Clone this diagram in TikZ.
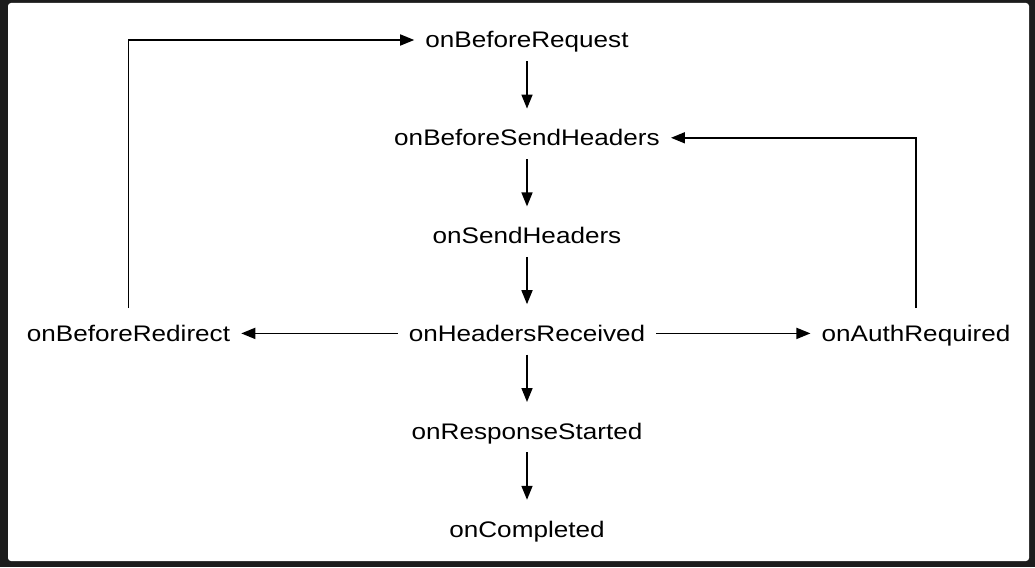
\documentclass[tikz,border=0pt]{standalone}
\usepackage{fontspec}
\setmainfont{Liberation Sans}[FakeStretch=1.16]
\usetikzlibrary{arrows.meta}

\tikzset{
	event/.style={font=\fontsize{22.5}{27}\selectfont, text height=21pt, text depth=5pt, inner xsep=11pt, inner ysep=12pt},
	flow/.style={line width=1.6pt, -{Triangle[length=14pt, width=11pt]}},
	down/.style={flow, shorten <=-4pt, shorten >=4pt},
}

\begin{document}
\begin{tikzpicture}[x=1pt, y=-1pt]
	\fill[black!89] (0, 0) rectangle (1035, 567);
	\fill[white, rounded corners=3pt] (8, 3) rectangle (1029, 561);
	%
	\node[event] (req) at (527, 40) {onBeforeRequest};
	\node[event] (sendh) at (527, 137.8) {onBeforeSendHeaders};
	\node[event] (sent) at (527, 235.6) {onSendHeaders};
	\node[event] (recv) at (527, 333.4) {onHeadersReceived};
	\node[event] (resp) at (527, 431.2) {onResponseStarted};
	\node[event] (done) at (527, 529) {onCompleted};
	\node[event] (redir) at (128.5, 333.4) {onBeforeRedirect};
	\node[event] (auth) at (916, 333.4) {onAuthRequired};
	%
	\draw[down] (req.south) -- (sendh.north);
	\draw[down] (sendh.south) -- (sent.north);
	\draw[down] (sent.south) -- (recv.north);
	\draw[down] (recv.south) -- (resp.north);
	\draw[down] (resp.south) -- (done.north);
	%
	\draw[flow] (recv.west) -- (redir.east);
	\draw[flow] (recv.east) -- (auth.west);
	\draw[flow] (redir.north) |- (req.west);
	\draw[flow] (auth.north) |- (sendh.east);
\end{tikzpicture}
\end{document}
